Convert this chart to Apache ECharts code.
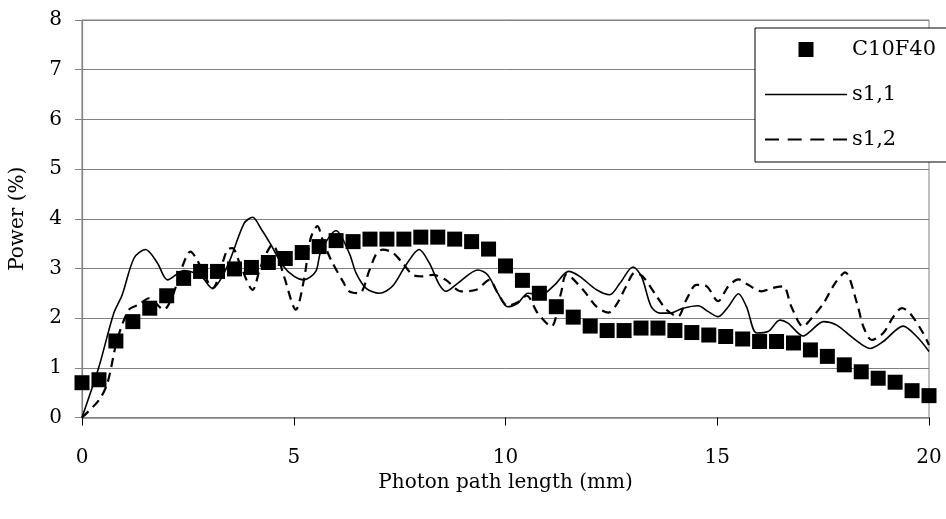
<!DOCTYPE html>
<html>
<head>
<meta charset="utf-8">
<script src="https://cdn.jsdelivr.net/npm/echarts@6/dist/echarts.min.js"></script>
<style>html,body{margin:0;padding:0;background:#fff}#c{width:946px;height:519px}</style>
</head>
<body>
<div id="c"></div>
<script>
const xTicks = [0, 5, 10, 15, 20];
const yTicks = [0, 1, 2, 3, 4, 5, 6, 7, 8];
const seriesNames = ['C10F40', 's1,1', 's1,2'];

const c10f40X = [0,0.4,0.8,1.2,1.6,2.0,2.4,2.8,3.2,3.6,4.0,4.4,4.8,5.2,5.6,6.0,6.4,6.8,7.2,7.6,8.0,8.4,8.8,9.2,9.6,10.0,10.4,10.8,11.2,11.6,12.0,12.4,12.8,13.2,13.6,14.0,14.4,14.8,15.2,15.6,16.0,16.4,16.8,17.2,17.6,18.0,18.4,18.8,19.2,19.6,20.0];
const c10f40Y = [0.70,0.76,1.54,1.93,2.20,2.45,2.80,2.94,2.94,2.99,3.02,3.12,3.20,3.32,3.44,3.56,3.54,3.59,3.59,3.59,3.63,3.63,3.59,3.54,3.39,3.05,2.76,2.50,2.23,2.02,1.84,1.75,1.75,1.80,1.80,1.75,1.71,1.66,1.63,1.58,1.53,1.53,1.50,1.36,1.23,1.06,0.92,0.79,0.71,0.54,0.44];

const s11X = [0,0.4,0.75,0.95,1.23,1.50,1.78,2.02,2.41,2.81,3.08,3.43,3.83,4.03,4.22,4.46,4.73,5.01,5.24,5.52,5.64,6.0,6.31,6.47,6.71,7.02,7.33,7.65,7.96,8.2,8.44,8.6,8.87,9.35,9.58,9.82,10.05,10.29,10.53,10.84,11.16,11.49,11.75,12.15,12.46,12.7,13.01,13.21,13.44,13.64,13.87,14.19,14.55,14.79,15.02,15.26,15.5,15.69,15.93,16.2,16.48,16.67,17.03,17.19,17.51,17.82,18.22,18.61,18.92,19.39,19.71,20];
const s11Y = [0,1.02,2.10,2.47,3.21,3.38,3.11,2.77,2.96,2.84,2.60,3.04,3.91,4.03,3.81,3.48,3.07,2.84,2.77,2.94,3.34,3.76,3.31,2.91,2.60,2.50,2.64,3.07,3.38,3.11,2.67,2.54,2.70,2.97,2.87,2.50,2.23,2.30,2.50,2.47,2.67,2.94,2.84,2.57,2.47,2.70,3.03,2.84,2.23,2.10,2.10,2.20,2.25,2.13,2.03,2.23,2.49,2.23,1.70,1.73,1.96,1.90,1.64,1.73,1.93,1.86,1.59,1.39,1.53,1.84,1.63,1.33];

const s12X = [0,0.4,0.6,0.83,1.11,1.34,1.58,1.93,2.13,2.37,2.56,2.72,2.9,3.08,3.43,3.55,3.75,4.03,4.22,4.5,4.77,5.05,5.24,5.4,5.56,5.68,5.88,6.16,6.31,6.55,6.79,6.94,7.1,7.33,7.57,7.81,8.04,8.28,8.59,8.95,9.31,9.62,9.82,10.05,10.29,10.5,10.76,11.08,11.31,11.44,11.83,12.15,12.43,12.62,12.85,13.05,13.24,13.6,13.8,14.07,14.27,14.51,14.75,15.02,15.26,15.5,15.73,16.04,16.32,16.56,16.75,17.03,17.19,17.51,17.78,18.02,18.3,18.45,18.65,18.92,19.16,19.36,19.55,19.86,20];
const s12Y = [0,0.35,0.69,1.56,2.17,2.27,2.40,2.17,2.43,3.04,3.34,3.17,2.85,2.60,3.38,3.41,3.04,2.57,3.04,3.48,2.84,2.17,2.77,3.61,3.85,3.58,3.17,2.74,2.54,2.50,2.97,3.28,3.38,3.32,3.11,2.87,2.84,2.87,2.77,2.54,2.57,2.77,2.50,2.25,2.32,2.45,2.10,1.83,2.50,2.88,2.57,2.23,2.11,2.27,2.64,2.91,2.84,2.40,2.17,2.03,2.37,2.67,2.64,2.34,2.64,2.78,2.67,2.54,2.61,2.64,2.23,1.83,1.96,2.30,2.70,2.92,2.30,1.83,1.56,1.70,2.03,2.20,2.10,1.70,1.46];

function pairs(xs, ys) { return xs.map((x, i) => [x, ys[i]]); }

const FONT = '"DejaVu Serif", "Liberation Serif", serif';
const ICON_SQUARE = 'path://M0,0L10,0L10,10L0,10Z';
const ICON_SOLID = 'path://M0,0L82,0L82,1.5L0,1.5Z';
const ICON_DASH = 'path://M0,0L14,0L14,2L0,2Z M22.7,0L36.7,0L36.7,2L22.7,2Z M45.3,0L59.3,0L59.3,2L45.3,2Z M68,0L82,0L82,2L68,2Z';

const chart = echarts.init(document.getElementById('c'), null, {renderer: 'canvas'});
chart.setOption({
  animation: false,
  backgroundColor: '#fff',
  textStyle: {fontFamily: FONT, color: '#000'},
  grid: {left: 81, right: 17, top: 20, bottom: 101.5, show: true, borderColor: '#808080', borderWidth: 1},
  legend: {
    left: 755, top: 28,
    orient: 'vertical',
    padding: [11, 40, 12, 10],
    itemGap: 24,
    itemWidth: 82, itemHeight: 15,
    backgroundColor: '#fff',
    borderColor: '#000', borderWidth: 1,
    textStyle: {fontFamily: FONT, fontSize: 21, color: '#000'},
    data: [
      {name: seriesNames[0], icon: ICON_SQUARE},
      {name: seriesNames[1], icon: ICON_SOLID},
      {name: seriesNames[2], icon: ICON_DASH}
    ]
  },
  xAxis: {
    type: 'value', min: xTicks[0], max: xTicks[xTicks.length - 1], interval: 5,
    name: 'Photon path length (mm)', nameLocation: 'middle', nameGap: 50,
    nameTextStyle: {fontFamily: FONT, fontSize: 20, color: '#000'},
    axisLine: {show: true, lineStyle: {color: '#808080', width: 1.5}},
    axisTick: {show: true, length: 8, lineStyle: {color: '#000'}},
    axisLabel: {margin: 30, fontFamily: FONT, fontSize: 20, color: '#000'},
    splitLine: {show: false}
  },
  yAxis: {
    type: 'value', min: yTicks[0], max: yTicks[yTicks.length - 1], interval: 1,
    name: 'Power (%)', nameLocation: 'middle', nameGap: 54, nameRotate: 90,
    nameTextStyle: {fontFamily: FONT, fontSize: 20, color: '#000'},
    axisLine: {show: true, lineStyle: {color: '#808080', width: 1.2}},
    axisTick: {show: true, length: 7, lineStyle: {color: '#808080'}},
    axisLabel: {margin: 20, fontFamily: FONT, fontSize: 20, color: '#000'},
    splitLine: {show: true, lineStyle: {color: '#808080', width: 1}}
  },
  series: [
    {
      name: seriesNames[0], type: 'scatter', data: pairs(c10f40X, c10f40Y),
      symbol: 'rect', symbolSize: 15,
      itemStyle: {color: '#000', opacity: 1}, z: 3
    },
    {
      name: seriesNames[1], type: 'line', data: pairs(s11X, s11Y),
      showSymbol: false, symbol: 'none', smooth: 0.3,
      lineStyle: {color: '#000', width: 1.6, type: 'solid'},
      itemStyle: {color: '#000'}, z: 2
    },
    {
      name: seriesNames[2], type: 'line', data: pairs(s12X, s12Y),
      showSymbol: false, symbol: 'none', smooth: 0.3,
      lineStyle: {color: '#000', width: 2.2, type: [9, 6]},
      itemStyle: {color: '#000'}, z: 2
    }
  ]
});
</script>
</body>
</html>
